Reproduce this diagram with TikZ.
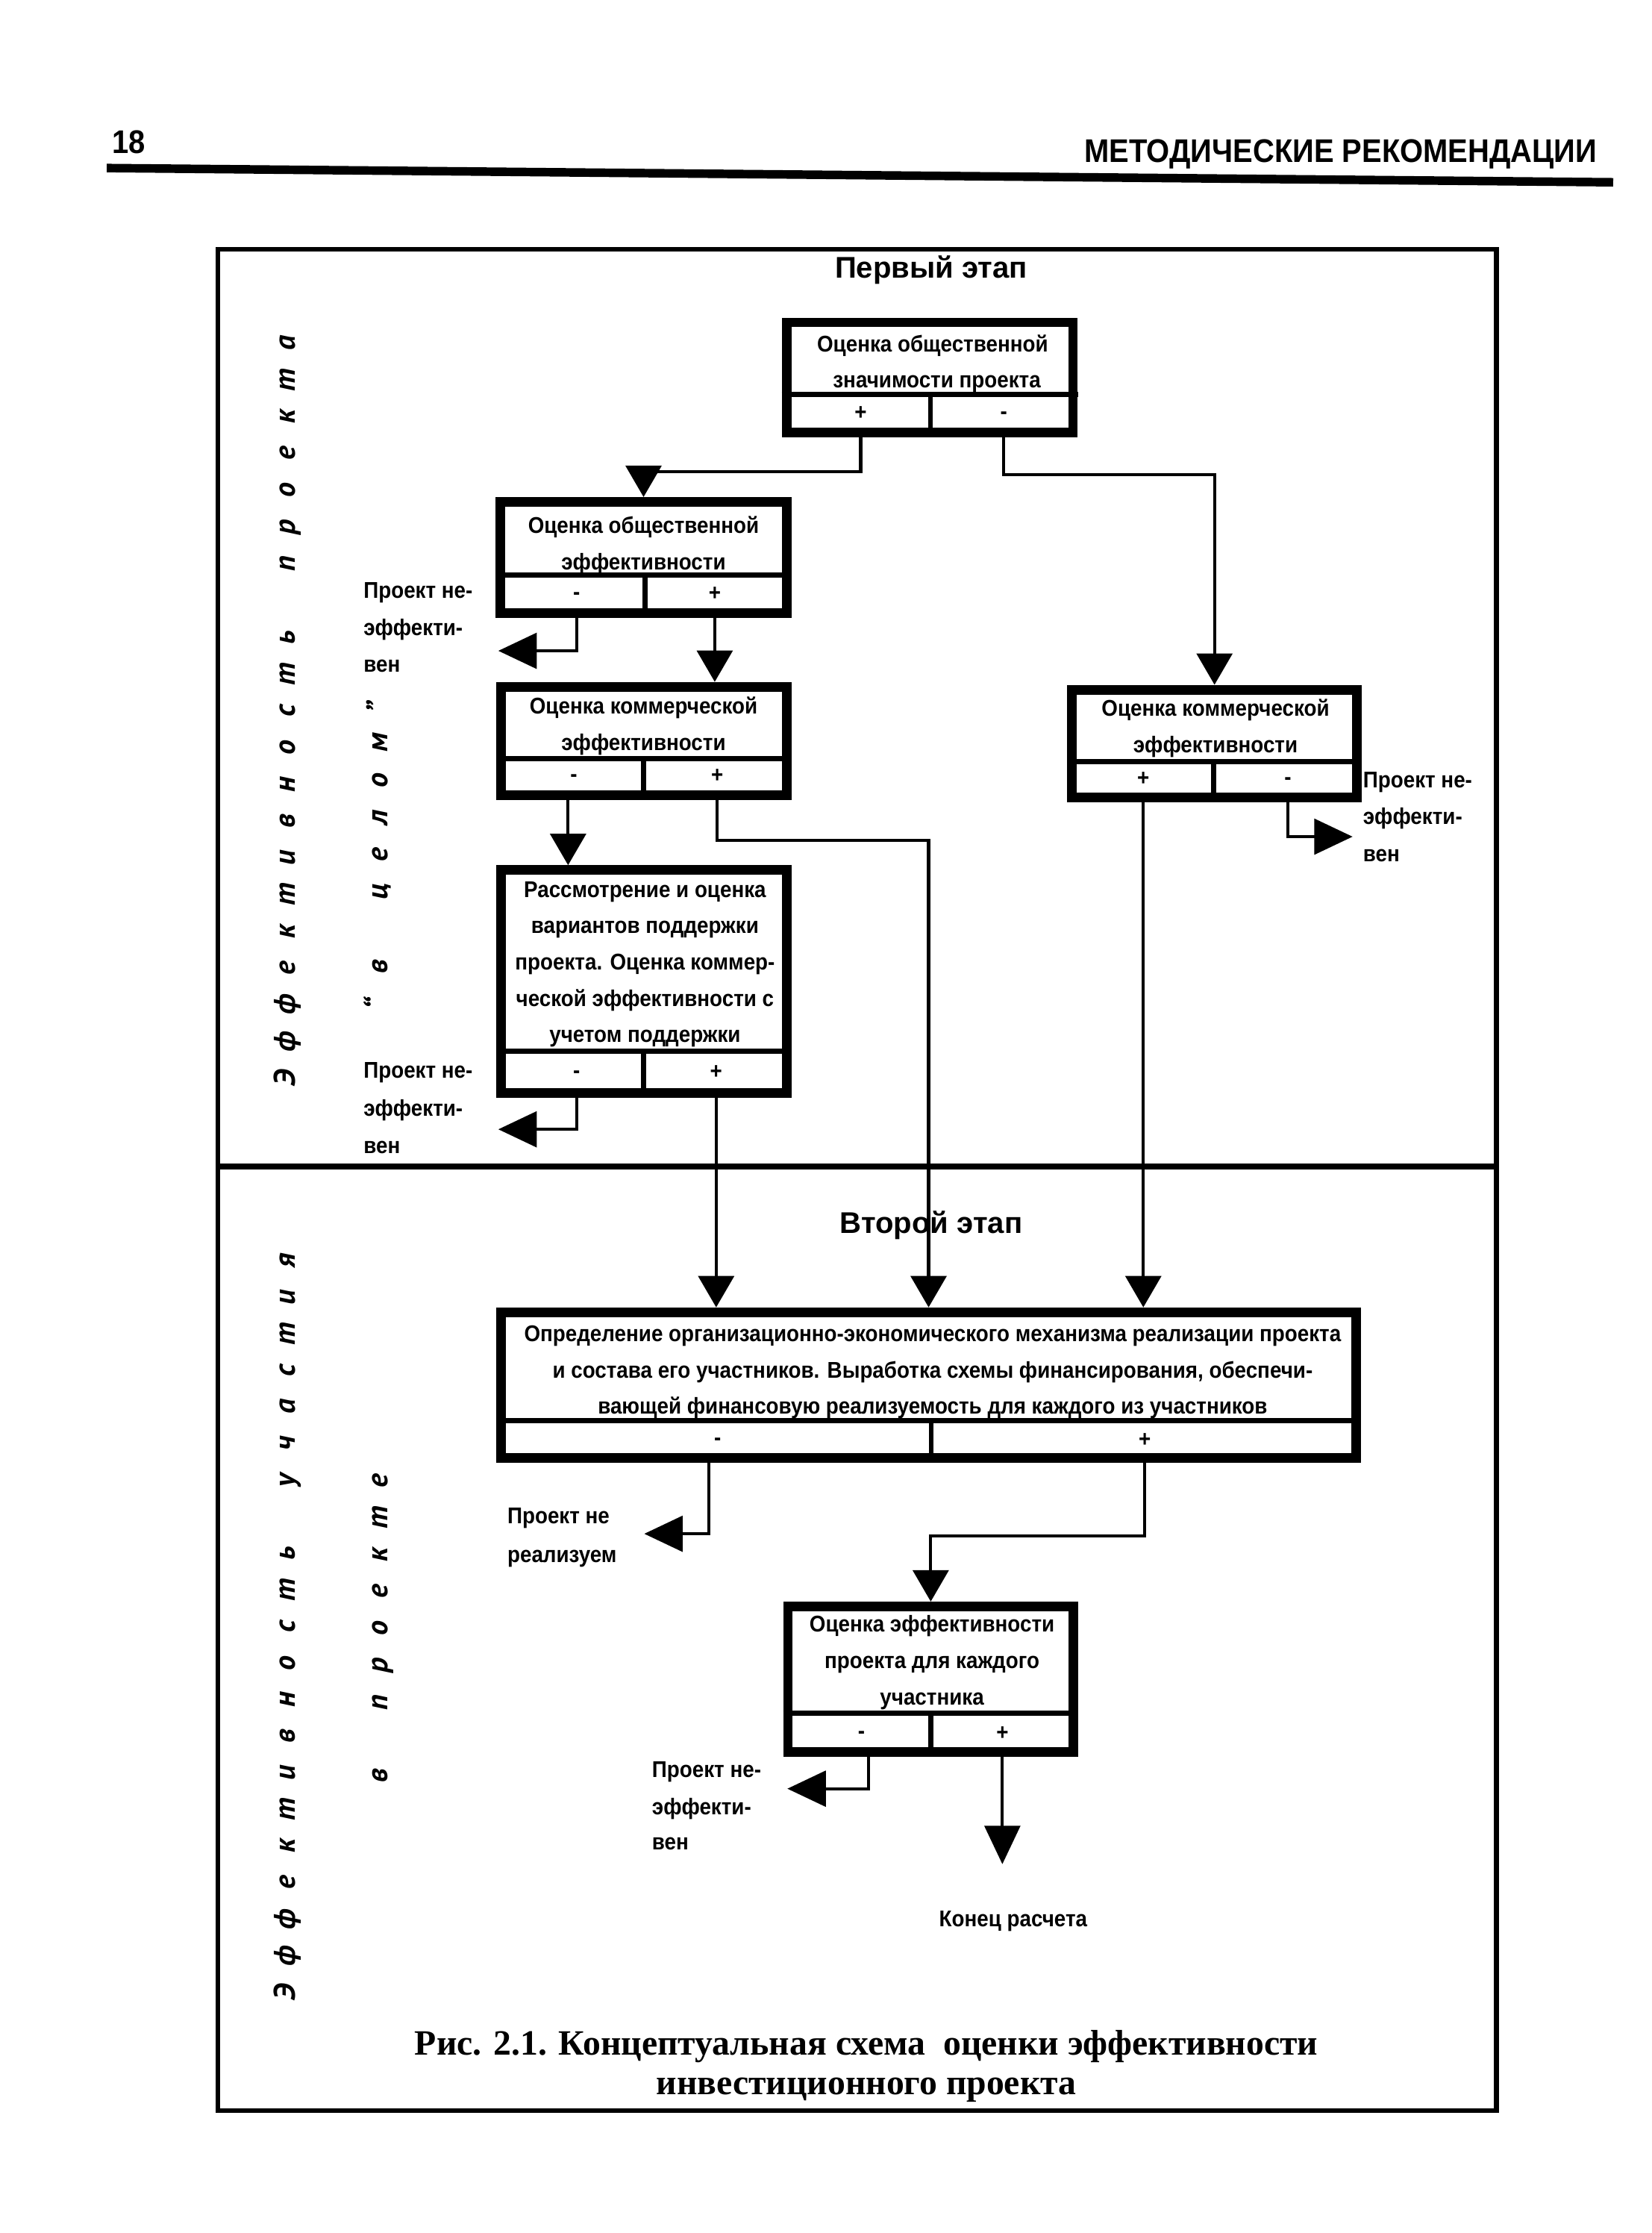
\documentclass[tikz,border=0pt]{standalone}
\usepackage{fontspec}
\setmainfont{Liberation Sans}
\newfontfamily\bxfont{Liberation Sans}[FakeStretch=0.91]
\newfontfamily\ttlfont{Liberation Sans}
\newfontfamily\capfont{Liberation Serif}
\newfontfamily\vfont{PT Sans}
\usetikzlibrary{arrows.meta,calc}
\begin{document}
\begin{tikzpicture}[x=0.5pt,y=-0.5pt,
  bx/.style 2 args={draw, rectangle, line width=3.4pt, minimum width=#1*0.5pt, minimum height=#2*0.5pt, inner sep=0pt},
  sepline/.style={line width=1.8pt},
  txt/.style={font=\bxfont\bfseries\fontsize{8}{9}\selectfont, inner sep=0pt, anchor=base},
  sym/.style={font=\bxfont\bfseries\fontsize{8}{9}\selectfont, inner sep=0pt, anchor=center},
  lbl/.style={font=\bxfont\bfseries\fontsize{8}{9}\selectfont, inner sep=0pt, anchor=base west},
  conn/.style={line width=1.1pt},
  arrd/.style={conn, -{Triangle[length=11pt,width=12.5pt]}},
  arrs/.style={conn, -{Triangle[length=13.5pt,width=12.5pt]}},
  vt/.style={font=\vfont\bfseries\itshape\fontsize{10.5}{12}\selectfont, rotate=90, anchor=base, inner sep=0pt},
  ttl/.style={font=\ttlfont\bfseries\fontsize{10.5}{12}\selectfont, inner sep=0pt, anchor=base},
  capt/.style={font=\capfont\bfseries\fontsize{12.5}{14}\selectfont, inner sep=0pt, anchor=base},
  hdr/.style={font=\bxfont\bfseries\fontsize{11.5}{13}\selectfont, inner sep=0pt}
]
\fill[white] (0,0) rectangle (1160,1568);
\useasboundingbox (0,0) rectangle (1160,1568);

% header
\node[hdr, anchor=base west] (pg) at (78.6,107.5) {18};
\node[hdr, anchor=base east] (hd) at (1122,114) {МЕТОДИЧЕСКИЕ РЕКОМЕНДАЦИИ};
\draw[line width=3pt] (75,118) -- (1133,128);

% frame
\draw[line width=1.6pt] (153,175) rectangle (1051,1482);
\draw[line width=2.2pt] (153,819) -- (1051,819);

\node[ttl] (t1) at (654,195) {Первый этап};
\node[ttl] (t2) at (654,866) {Второй этап};

% Box A
\node[bx={201.2}{77.2}] (A) at (653,265) {};
\draw[sepline] (549,277) -- (757,277);
\draw[sepline] (653.5,277) -- (653.5,307);
\node[txt] (A1) at (655,247) {Оценка общественной};
\node[txt] (A2) at (658,272) {значимости проекта};
\node[sym] (Ap) at (604.5,290) {+};
\node[sym] (Am) at (705,291.5) {-};

% Box B
\node[bx={201.2}{78.2}] (B) at (452,391.5) {};
\draw[sepline] (348,403.6) -- (556,403.6);
\draw[sepline] (453,403.6) -- (453,434);
\node[txt] (B1) at (452,374.5) {Оценка общественной};
\node[txt] (B2) at (452,400) {эффективности};
\node[sym] (Bm) at (405,418.5) {-};
\node[sym] (Bp) at (502,417) {+};
\node[lbl] (LB1) at (255,420) {Проект не-};
\node[lbl] (LB2) at (255,446) {эффекти-};
\node[lbl] (LB3) at (255,472) {вен};

% Box C
\node[bx={200.6}{76.4}] (C) at (452.3,520.4) {};
\draw[sepline] (348.6,532.6) -- (556,532.6);
\draw[sepline] (452,532.6) -- (452,562);
\node[txt] (C1) at (452,501.5) {Оценка коммерческой};
\node[txt] (C2) at (452,527) {эффективности};
\node[sym] (Cm) at (403,546.5) {-};
\node[sym] (Cp) at (503.8,545) {+};

% Box S (support)
\node[bx={200.6}{156.7}] (S) at (452.3,689.25) {};
\draw[sepline] (348.6,738) -- (556,738);
\draw[sepline] (452,738) -- (452,771);
\node[txt] (S1) at (453,630) {Рассмотрение и оценка};
\node[txt] (S2) at (453,655.5) {вариантов поддержки};
\node[txt] (S3) at (453,681) {проекта. Оценка коммер-};
\node[txt] (S4) at (453,706.5) {ческой эффективности с};
\node[txt] (S5) at (453,732) {учетом поддержки};
\node[sym] (Sm) at (405,754.5) {-};
\node[sym] (Sp) at (503,753) {+};
\node[lbl] (LS1) at (255,757) {Проект не-};
\node[lbl] (LS2) at (255,783.5) {эффекти-};
\node[lbl] (LS3) at (255,810) {вен};

% Box D
\node[bx={200}{75.9}] (D) at (853,522.2) {};
\draw[sepline] (749.6,534.6) -- (956.4,534.6);
\draw[sepline] (852.6,534.6) -- (852.6,563.5);
\node[txt] (D1) at (853.7,503) {Оценка коммерческой};
\node[txt] (D2) at (853.7,528.5) {эффективности};
\node[sym] (Dp) at (803,547) {+};
\node[sym] (Dm) at (904.5,548.5) {-};
\node[lbl] (LD1) at (957,553) {Проект не-};
\node[lbl] (LD2) at (957,579) {эффекти-};
\node[lbl] (LD3) at (957,605) {вен};

% Box E
\node[bx={600.8}{102.6}] (E) at (652.2,972.7) {};
\draw[sepline] (348.4,997.6) -- (956,997.6);
\draw[sepline] (654,997.6) -- (654,1027.4);
\node[txt] (E1) at (655,942) {Определение организационно-экономического механизма реализации проекта};
\node[txt] (E2) at (655,967.5) {и состава его участников. Выработка схемы финансирования, обеспечи-};
\node[txt] (E3) at (655,993) {вающей финансовую реализуемость для каждого из участников};
\node[sym] (Em) at (504,1012.5) {-};
\node[sym] (Ep) at (804,1011) {+};
\node[lbl] (LE1) at (356,1070) {Проект не};
\node[lbl] (LE2) at (356,1097) {реализуем};

% Box F
\node[bx={200.6}{102.4}] (F) at (653.7,1179.2) {};
\draw[sepline] (550,1203) -- (757.4,1203);
\draw[sepline] (653.6,1203) -- (653.6,1233.8);
\node[txt] (F1) at (654.6,1146) {Оценка эффективности};
\node[txt] (F2) at (654.6,1171.5) {проекта для каждого};
\node[txt] (F3) at (654.6,1197) {участника};
\node[sym] (Fm) at (605,1218.5) {-};
\node[sym] (Fp) at (704,1217) {+};
\node[lbl] (LF1) at (457.6,1248) {Проект не-};
\node[lbl] (LF2) at (457.6,1274) {эффекти-};
\node[lbl] (LF3) at (457.6,1299) {вен};

\node[lbl, anchor=base] (end) at (711.6,1353) {Конец расчета};

% free ends
\coordinate (tB) at (350,457);
\coordinate (tS) at (350,793);
\coordinate (tD) at (950,587.5);
\coordinate (tE) at (452.5,1077);
\coordinate (tF) at (553,1256);
\coordinate (tEnd) at (704,1309);

% connectors
\draw[arrd] (Ap |- A.south) -- ++(0,24.4) -| (B.north);
\draw[arrd] (Am |- A.south) -- ++(0,26.4) -| (D.north);
\draw[arrs] (Bm |- B.south) |- (tB);
\draw[arrd] (Bp |- B.south) -- (Bp |- C.north);
\draw[arrd] ($(Cm |- C.south)+(-4,0)$) -- ($(Cm |- S.north)+(-4,0)$);
\draw[arrd] (Cp |- C.south) -- ++(0,28) -| (E.north);
\draw[arrs] (Sm |- S.south) |- (tS);
\draw[arrd] (Sp |- S.south) -- (Sp |- E.north);
\draw[arrd] (Dp |- D.south) -- (Dp |- E.north);
\draw[arrs] (Dm |- D.south) |- (tD);
\draw[arrs] ($(Em |- E.south)+(-6,0)$) |- (tE);
\draw[arrd] (Ep |- E.south) -- ++(0,51) -| (F.north);
\draw[arrs] ($(Fm |- F.south)+(5,0)$) |- (tF);
\draw[arrs] (Fp |- F.south) -- (tEnd);

% vertical texts
\foreach \c [count=\i from 0] in {Э,ф,ф,е,к,т,и,в,н,о,с,т,ь}
  \node[vt] (ua\i) at (207.5,{757-25.8*\i}) {\c};
\foreach \c [count=\i from 14] in {п,р,о,е,к,т,а}
  \node[vt] (ub\i) at (207.5,{757-25.8*\i}) {\c};
\foreach \c/\yy [count=\i] in {“/705,в/679,ц/626,е/600,л/574,о/548,м/521,”/497}
  \node[vt] (uc\i) at (272.5,\yy) {\c};
\foreach \c [count=\i from 0] in {Э,ф,ф,е,к,т,и,в,н,о,с,т,ь}
  \node[vt] (la\i) at (207.5,{1399-25.7*\i}) {\c};
\foreach \c [count=\i from 14] in {у,ч,а,с,т,и,я}
  \node[vt] (lb\i) at (207.5,{1399-25.7*\i}) {\c};
\node[vt] (lc0) at (272.5,1247) {в};
\foreach \c [count=\i from 2] in {п,р,о,е,к,т,е}
  \node[vt] (lc\i) at (272.5,{1247-25.9*\i}) {\c};

% caption
\node[capt] (cap1) at (608.5,1443) {Рис. 2.1. Концептуальная схема\ \ оценки эффективности};
\node[capt] (cap2) at (608.5,1471) {инвестиционного проекта};
\end{tikzpicture}
\end{document}
